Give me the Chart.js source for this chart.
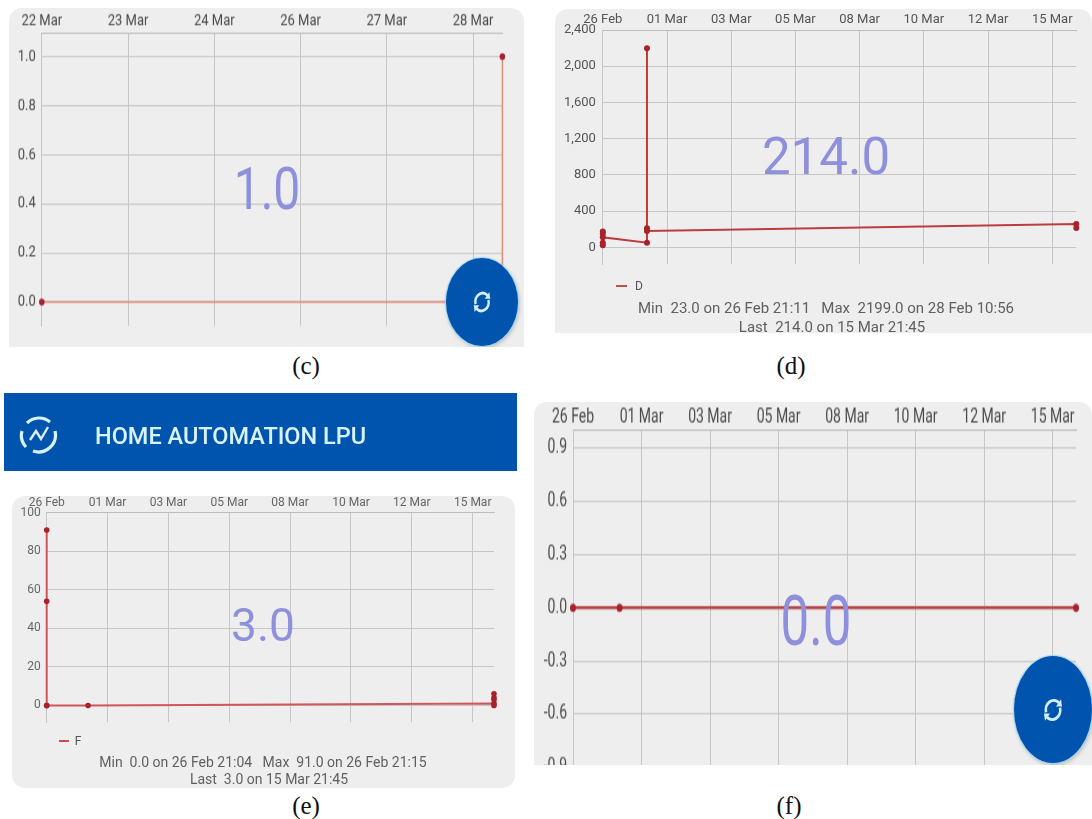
<!DOCTYPE html>
<html>
<head>
<meta charset="utf-8">
<title>Home automation charts</title>
<script src="https://cdn.jsdelivr.net/npm/chart.js@4"></script>
<style>
  html, body { margin: 0; padding: 0; background: #fff; }
  body { position: relative; width: 1092px; height: 819px; overflow: hidden; font-family: Roboto, sans-serif; }
  .card { position: absolute; background: #eee; overflow: hidden; border-radius: 13px; filter: blur(.45px); }
  .card.flat-bottom { border-radius: 13px 13px 0 0; }
  .stretch { position: absolute; left: 0; top: 0; transform-origin: 0 0; }
  .txt { position: absolute; white-space: pre; transform: translateX(-50%); color: #5f5f5f; line-height: 1; }
  .big { position: absolute; color: #8f90dc; line-height: 1; transform-origin: center; }
  .legend-line { position: absolute; height: 2px; background: #c0504d; }
  .fab { position: absolute; border-radius: 50%; background: #0054ae; box-shadow: 0 0 1px 1px #9fd6f0, 1px 2px 4px rgba(0,0,0,.25); }
  .fab svg { position: absolute; left: 50%; top: 50%; transform: translate(-50%, -50%); }
  .cap { position: absolute; font: 25px "Liberation Serif", serif; color: #111; transform: translateX(-50%); }
  #header { position: absolute; left: 4px; top: 393px; width: 513px; height: 78px; background: #0054ae; filter: blur(.45px); }
  #header span { position: absolute; left: 91px; top: 32px; font: 500 23.5px/1 Roboto, sans-serif; color: #d8f3f6; }
  #header svg { position: absolute; left: 15px; top: 21px; }
</style>
</head>
<body>
<script>
'use strict';

// ── Data ─────────────────────────────────────────────────────────────────────
// x values are in units of the labelled tick position (0 = first label)
const marchLabels = ['26 Feb', '01 Mar', '03 Mar', '05 Mar', '08 Mar', '10 Mar', '12 Mar', '15 Mar'];

const xLabelsC = ['22 Mar', '23 Mar', '24 Mar', '26 Mar', '27 Mar', '28 Mar'];
const yTicksC  = [0, 0.2, 0.4, 0.6, 0.8, 1];
const yLabelsC = ['0.0', '0.2', '0.4', '0.6', '0.8', '1.0'];
const xValsC   = [0, 5.34, 5.34];
const yValsC   = [0, 0, 1];

const yTicksD  = [0, 400, 800, 1200, 1600, 2000, 2400];
const yLabelsD = ['0', '400', '800', '1,200', '1,600', '2,000', '2,400'];
const xValsD   = [0, 0, 0, 0, 0, 0.688, 0.688, 0.688, 0.688, 7.375, 7.375];
const yValsD   = [23, 50, 175, 150, 110, 50, 2199, 210, 180, 258, 214];

const yTicksE  = [0, 20, 40, 60, 80, 100];
const yLabelsE = ['0', '20', '40', '60', '80', '100'];
const xValsE   = [0, 0, 0, 0, 0.68, 7.35, 7.35, 7.35, 7.35, 7.35];
const yValsE   = [0, 91, 54, 0, 0, 1, 6, 4, 0, 3];

const yTicksF  = [-0.9, -0.6, -0.3, 0, 0.3, 0.6, 0.9];
const yLabelsF = ['-0.9', '-0.6', '-0.3', '0.0', '0.3', '0.6', '0.9'];
const xValsF   = [0, 0.68, 7.34];
const yValsF   = [0, 0, 0];

// ── Panels ───────────────────────────────────────────────────────────────────
function el(parent, cls, style, text) {
  const d = document.createElement('div');
  d.className = cls;
  Object.assign(d.style, style);
  if (text != null) d.textContent = text;
  parent.appendChild(d);
  return d;
}

function fabIcon(size) {
  return `<svg width="${size}" height="${size * 1.2}" viewBox="0 0 24 24" preserveAspectRatio="none" fill="none" stroke="#d4eef8" stroke-width="2.6">
    <path d="M5 14 A8 8 0 0 1 18 6"/><path d="M19 10 A8 8 0 0 1 6 18"/>
    <path d="M15 9 L21 9 L20 3 Z" fill="#d4eef8" stroke="none"/><path d="M9 15 L3 15 L4 21 Z" fill="#d4eef8" stroke="none"/></svg>`;
}

function panel(p) {
  const card = el(document.body, 'card' + (p.flat ? ' flat-bottom' : ''),
    { left: p.x + 'px', top: p.y + 'px', width: p.w + 'px', height: p.h + 'px' });
  const wrap = el(card, 'stretch', { transform: `scale(1, ${p.sy})` });
  const canvas = document.createElement('canvas');
  const cw = p.w;
  const ch = Math.round(p.canvasH / p.sy);
  canvas.width = cw; canvas.height = ch;
  wrap.appendChild(canvas);

  const tickFont = { family: 'Roboto', size: p.font };
  const toInner = v => (v - p.y) / p.sy;

  new Chart(canvas, {
    type: 'line',
    data: { datasets: [{
      data: p.xVals.map((x, i) => ({ x, y: p.yVals[i] })),
      borderColor: p.lineColor, borderWidth: p.lineWidth, tension: 0,
      pointRadius: p.pointR, pointBackgroundColor: '#a8222c', pointBorderWidth: 0, clip: false,
    }] },
    options: {
      responsive: false, animation: false, devicePixelRatio: 1,
      layout: { padding: { left: 0, top: 0, right: p.w - (p.plotR - p.x), bottom: ch - toInner(p.plotB) } },
      plugins: { legend: { display: false }, tooltip: { enabled: false } },
      scales: {
        x: {
          type: 'linear', position: 'top', min: 0, max: p.xMax,
          afterBuildTicks: s => { s.ticks = p.xLabels.map((_, i) => ({ value: i })); },
          afterFit: s => { s.height = toInner(p.plotT); },
          ticks: { callback: (v, i) => p.xLabels[i], font: tickFont, color: p.tickColor, padding: p.xPad, autoSkip: false, maxRotation: 0 },
          grid: { color: '#c6c6c6', lineWidth: 1, drawTicks: false },
          border: { color: '#bdbdbd' },
        },
        y: {
          min: p.yMin, max: p.yMax,
          afterBuildTicks: s => { s.ticks = p.yTicks.map(value => ({ value })); },
          afterFit: s => { s.width = p.plotL - p.x; },
          ticks: { callback: (v, i) => p.yLabels[i], font: tickFont, color: p.tickColor, padding: p.yPad, autoSkip: false },
          grid: { color: '#c6c6c6', lineWidth: 1, drawTicks: false },
          border: { color: '#c6c6c6' },
        },
      },
    },
  });

  // big current value on top of the plot
  const b = el(card, 'big', { left: (p.bigX - p.x) + 'px', top: (p.bigY - p.y) + 'px', fontSize: p.bigSize + 'px',
    transform: `translate(-50%, -50%) scale(1, ${p.sy})` }, p.big);
  b.style.transformOrigin = 'center';

  if (p.legend) {
    el(card, 'legend-line', { left: (p.legend.x - p.x) + 'px', top: (p.legend.y - p.y - 1) + 'px', width: p.legend.w + 'px' });
    el(card, 'txt', { left: (p.legend.tx - p.x) + 'px', top: (p.legend.y - p.y - 6) + 'px', fontSize: '12px', color: '#555' }, p.legend.name);
  }
  (p.stats || []).forEach(s => {
    el(card, 'txt', { left: (s.x - p.x) + 'px', top: (s.y - p.y - p.statSize * 0.5) + 'px', fontSize: p.statSize + 'px' }, s.text);
  });
  if (p.fab) {
    const f = el(card, 'fab', { left: (p.fab.x - p.fab.rx - p.x) + 'px', top: (p.fab.y - p.fab.ry - p.y) + 'px', width: p.fab.rx * 2 + 'px', height: p.fab.ry * 2 + 'px' });
    f.innerHTML = fabIcon(p.fab.icon);
  }
}

panel({
  x: 9, y: 8, w: 515, h: 339, canvasH: 339, sy: 1.23, flat: true, font: 13, tickColor: '#4a4a4a', xPad: 2.5, yPad: 6,
  plotL: 41.8, plotR: 502.4, plotT: 33.5, plotB: 326,
  xLabels: xLabelsC, xVals: xValsC, yVals: yValsC, xMax: 5.34,
  yTicks: yTicksC, yLabels: yLabelsC, yMin: -0.098, yMax: 1.094,
  lineColor: '#e38a7e', lineWidth: 1.5, pointR: 2.8,
  big: '1.0', bigX: 267, bigY: 189, bigSize: 48,
  fab: { x: 482, y: 302, rx: 36, ry: 44, icon: 22 },
});

panel({
  x: 555, y: 9, w: 537, h: 324, canvasH: 324, sy: 1, flat: true, font: 13, tickColor: '#555', xPad: 2.5, yPad: 7,
  plotL: 602.8, plotR: 1076.3, plotT: 30, plotB: 264,
  xLabels: marchLabels, xVals: xValsD, yVals: yValsD, xMax: 7.375,
  yTicks: yTicksD, yLabels: yLabelsD, yMin: -185, yMax: 2400,
  lineColor: '#bc3c3e', lineWidth: 2, pointR: 3,
  big: '214.0', bigX: 826, bigY: 156, bigSize: 51,
  legend: { x: 616, y: 286, w: 11, tx: 639, name: 'D' },
  statSize: 15,
  stats: [
    { x: 826, y: 308, text: 'Min  23.0 on 26 Feb 21:11   Max  2199.0 on 28 Feb 10:56' },
    { x: 832, y: 327, text: 'Last  214.0 on 15 Mar 21:45' },
  ],
});

panel({
  x: 12, y: 495.6, w: 503, h: 292.4, canvasH: 292.4, sy: 1, font: 12, tickColor: '#666', xPad: 3, yPad: 6,
  plotL: 46.7, plotR: 494, plotT: 512.3, plotB: 721.8,
  xLabels: marchLabels, xVals: xValsE, yVals: yValsE, xMax: 7.35,
  yTicks: yTicksE, yLabels: yLabelsE, yMin: -8.7, yMax: 100,
  lineColor: '#d0565a', lineWidth: 2, pointR: 2.8,
  big: '3.0', bigX: 263, bigY: 625, bigSize: 46,
  legend: { x: 59, y: 741, w: 10, tx: 78, name: 'F' },
  statSize: 14,
  stats: [
    { x: 263, y: 762, text: 'Min  0.0 on 26 Feb 21:04   Max  91.0 on 26 Feb 21:15' },
    { x: 269, y: 779, text: 'Last  3.0 on 15 Mar 21:45' },
  ],
});

// canvas runs past the card here, the card clips the lowest tick like the screenshot does
panel({
  x: 534, y: 401.7, w: 558, h: 363, canvasH: 440, sy: 1.37, flat: true, font: 14, tickColor: '#4a4a4a', xPad: 1, yPad: 6,
  plotL: 573, plotR: 1076, plotT: 430, plotB: 785,
  xLabels: marchLabels, xVals: xValsF, yVals: yValsF, xMax: 7.34,
  yTicks: yTicksF, yLabels: yLabelsF, yMin: -1, yMax: 1,
  lineColor: '#b5454a', lineWidth: 2.2, pointR: 3,
  big: '0.0', bigX: 816, bigY: 621, bigSize: 51,
  fab: { x: 1053, y: 710, rx: 39, ry: 53.5, icon: 24 },
});

// ── Header strip and captions ────────────────────────────────────────────────
const header = el(document.body, '', {});
header.id = 'header';
header.innerHTML = `<svg width="40" height="42" viewBox="0 0 40 42" fill="none" stroke="#d8f3f6" stroke-width="3.2">
  <path d="M8 9 A17 17 0 0 1 31 8"/><path d="M36 17 A17 17 0 0 1 14 37"/><path d="M7 33 A17 17 0 0 1 3 17"/>
  <path d="M11 26 L17 17 L22 25 L29 13" stroke-width="2.4"/></svg><span>HOME AUTOMATION LPU</span>`;

[['(c)', 306, 352], ['(d)', 791, 352], ['(e)', 306, 792], ['(f)', 789, 792]].forEach(([t, x, y]) =>
  el(document.body, 'cap', { left: x + 'px', top: y + 'px' }, t));
</script>
</body>
</html>
